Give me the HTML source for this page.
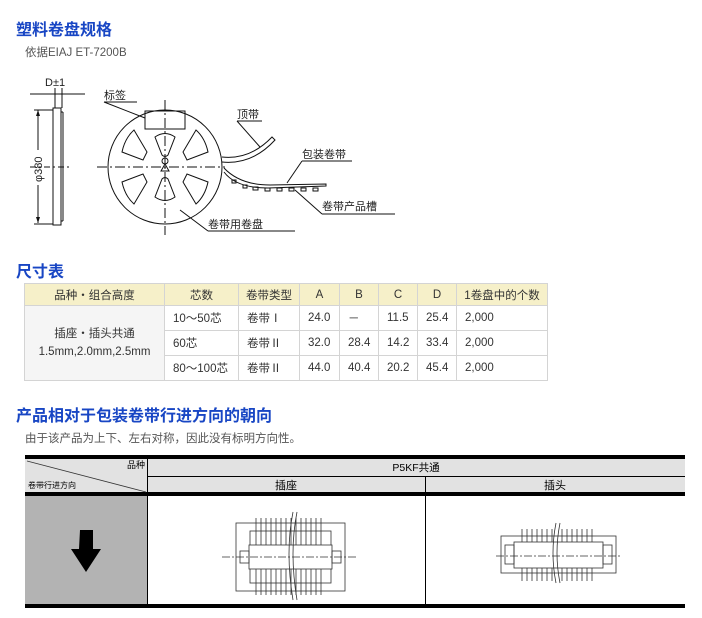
<!DOCTYPE html>
<html><head><meta charset="utf-8"><style>
body{margin:0;width:702px;height:618px;background:#fff;position:relative;font-family:"Liberation Sans","Noto Sans CJK SC",sans-serif;overflow:hidden}
.a{position:absolute;white-space:nowrap}
.h{color:#1846c4;font-weight:bold;font-size:16px}
.s{color:#555;font-size:11.5px}
table.t{position:absolute;left:24px;top:283px;border-collapse:collapse;font-size:11.5px;color:#333;table-layout:fixed;width:523px}
table.t td{border:1px solid #d4d4d4;height:24px;padding:0 0 0 8px;vertical-align:middle;overflow:hidden;white-space:nowrap}
table.t tr.hd td{background:#f6f0c9;text-align:center;padding:0;height:21px}
</style></head><body>
<div class="a h" style="left:16px;top:16px">塑料卷盘规格</div>
<div class="a s" style="left:25px;top:44px">依据EIAJ ET-7200B</div>

<svg class="a" style="left:0;top:0" width="702" height="250" font-family="Liberation Sans,Noto Sans CJK SC,sans-serif" font-size="11">
<g stroke="#111" fill="none" stroke-width="1">
<rect x="53" y="108" width="8" height="117"/><line x1="61" y1="112" x2="63" y2="112"/><line x1="61" y1="221" x2="63" y2="221"/><line x1="63" y1="112" x2="63" y2="221"/>
<line x1="30" y1="94" x2="85" y2="94"/><line x1="55" y1="88" x2="55" y2="108"/><line x1="62" y1="88" x2="62" y2="108"/>
<line x1="38" y1="110" x2="38" y2="150"/><line x1="38" y1="185" x2="38" y2="223"/>
<line x1="34" y1="110" x2="53" y2="110"/><line x1="34" y1="224" x2="53" y2="224"/>
<line x1="30" y1="167" x2="72" y2="167" stroke-dasharray="6,3,2,3"/>
<circle cx="165" cy="167" r="57"/>
<line x1="165" y1="100" x2="165" y2="235" stroke-dasharray="10,3,2,3"/>
<line x1="97" y1="167" x2="225" y2="167" stroke-dasharray="10,3,2,3"/>
<rect x="145" y="111" width="40" height="18"/>
<path d="M155 137 Q165 130 175 137 L168 155 Q165 158 162 155 Z"/>
<path d="M155 197 Q165 204 175 197 L168 179 Q165 176 162 179 Z"/>
<path d="M196 130 Q205 138 208 152 L187 160 L183 152 Z"/>
<path d="M134 130 Q125 138 122 152 L143 160 L147 152 Z"/>
<path d="M196 204 Q205 196 208 182 L187 174 L183 182 Z"/>
<path d="M134 204 Q125 196 122 182 L143 174 L147 182 Z"/>
<circle cx="165" cy="161" r="3"/><path d="M161 171 L165 164 L169 171 Z"/>
<path d="M222 157 Q250 160 272 137 L275 140 Q252 165 222 162"/>
<path d="M224 168 Q240 185 270 185 L326 184 L326 186 L268 188 Q236 188 224 172"/>
<path d="M232 180h4v3h-4zM243 185h4v3h-4zM253 187h5v3h-5zM265 188h5v3h-5zM277 188h5v3h-5zM289 188h5v3h-5zM301 188h5v3h-5zM313 188h5v3h-5z"/>
<line x1="104" y1="102" x2="137" y2="102"/><line x1="104" y1="102" x2="145" y2="118"/>
<line x1="237" y1="121" x2="262" y2="121"/><line x1="237" y1="121" x2="260" y2="147"/>
<line x1="302" y1="161" x2="352" y2="161"/><line x1="302" y1="161" x2="287" y2="183"/>
<line x1="322" y1="214" x2="395" y2="214"/><line x1="322" y1="214" x2="295" y2="190"/>
<line x1="208" y1="231" x2="295" y2="231"/><line x1="208" y1="231" x2="180" y2="210"/>
</g>
<path d="M38 110l-2 6h4zM38 223l-2-6h4z" fill="#111"/>
<text x="45" y="86" fill="#222">D±1</text>
<text x="104" y="99" fill="#222">标签</text>
<text x="237" y="118" fill="#222">顶带</text>
<text x="302" y="158" fill="#222">包装卷带</text>
<text x="322" y="210" fill="#222">卷带产品槽</text>
<text x="208" y="228" fill="#222">卷带用卷盘</text>
<text transform="translate(42,182) rotate(-90)" fill="#222">φ380</text>
</svg>

<div class="a h" style="left:16px;top:258px">尺寸表</div>
<table class="t">
<colgroup><col style="width:140px"><col style="width:74px"><col style="width:61px"><col style="width:40px"><col style="width:39px"><col style="width:39px"><col style="width:39px"><col style="width:91px"></colgroup>
<tr class="hd"><td>品种・组合高度</td><td>芯数</td><td>卷带类型</td><td>A</td><td>B</td><td>C</td><td>D</td><td>1卷盘中的个数</td></tr>
<tr><td rowspan="3" style="background:#f5f5f5;text-align:center;padding:0;line-height:18px">插座・插头共通<br>1.5mm,2.0mm,2.5mm</td><td>10～50芯</td><td>卷带Ⅰ</td><td>24.0</td><td>－</td><td>11.5</td><td>25.4</td><td>2,000</td></tr>
<tr><td>60芯</td><td>卷带Ⅱ</td><td>32.0</td><td>28.4</td><td>14.2</td><td>33.4</td><td>2,000</td></tr>
<tr><td>80～100芯</td><td>卷带Ⅱ</td><td>44.0</td><td>40.4</td><td>20.2</td><td>45.4</td><td>2,000</td></tr>
</table>

<div class="a h" style="left:16px;top:402px">产品相对于包装卷带行进方向的朝向</div>
<div class="a s" style="left:25px;top:430px">由于该产品为上下、左右对称，因此没有标明方向性。</div>

<svg class="a" style="left:0;top:450px" width="702" height="168" font-family="Liberation Sans,Noto Sans CJK SC,sans-serif">
<rect x="25" y="9" width="660" height="34" fill="#e2e2e2"/>
<rect x="25" y="46" width="122" height="108" fill="#b3b3b3"/>
<rect x="25" y="5" width="660" height="4" fill="#000"/>
<rect x="25" y="42" width="660" height="4" fill="#000"/>
<rect x="25" y="154" width="660" height="4" fill="#000"/>
<line x1="147.5" y1="9" x2="147.5" y2="154" stroke="#000"/>
<line x1="425.5" y1="27" x2="425.5" y2="154" stroke="#000"/>
<line x1="147" y1="26.5" x2="685" y2="26.5" stroke="#000"/>
<line x1="27" y1="11" x2="146" y2="42" stroke="#333" stroke-width="0.8"/>
<text x="145" y="18" font-size="9" text-anchor="end">品种</text>
<text x="28" y="38" font-size="8">卷带行进方向</text>
<text x="416" y="21" font-size="10.5" text-anchor="middle">P5KF共通</text>
<text x="286" y="39" font-size="11" text-anchor="middle">插座</text>
<text x="555" y="39" font-size="11" text-anchor="middle">插头</text>
<path d="M80 80h13v19h8l-15 23l-15-23h8z" fill="#000"/>
<g stroke="#333" fill="none" stroke-width="0.8">
<rect x="236" y="73" width="109" height="68"/>
<rect x="250" y="81" width="81" height="52"/>
<rect x="249" y="95" width="83" height="24" fill="#fff"/>
<rect x="240" y="101" width="9" height="12"/><rect x="332" y="101" width="9" height="12"/>
<path d="M256 68v27M261 68v27M266 68v27M271 68v27M276 68v27M281 68v27M286 68v27M291 68v27M296 68v27M301 68v27M306 68v27M311 68v27M316 68v27M321 68v27"/>
<path d="M256 119v26M261 119v26M266 119v26M271 119v26M276 119v26M281 119v26M286 119v26M291 119v26M296 119v26M301 119v26M306 119v26M311 119v26M316 119v26M321 119v26"/>
<path d="M293 62q-8 40 0 88M297 62q-8 40 0 88"/>
<line x1="222" y1="107" x2="356" y2="107" stroke-dasharray="8,2,2,2"/>
<rect x="501" y="86" width="115" height="37"/>
<rect x="514" y="92" width="89" height="26" fill="#fff"/>
<rect x="505" y="95" width="9" height="19"/><rect x="603" y="95" width="9" height="19"/>
<path d="M522 79v13M527 79v13M532 79v13M537 79v13M542 79v13M547 79v13M552 79v13M562 79v13M567 79v13M572 79v13M577 79v13M582 79v13M587 79v13M592 79v13"/>
<path d="M522 118v13M527 118v13M532 118v13M537 118v13M542 118v13M547 118v13M552 118v13M562 118v13M567 118v13M572 118v13M577 118v13M582 118v13M587 118v13M592 118v13"/>
<path d="M556 73q-6 30 0 60M560 73q-6 30 0 60"/>
<line x1="496" y1="106" x2="620" y2="106" stroke-dasharray="8,2,2,2"/>
</g>
</svg>
</body></html>
